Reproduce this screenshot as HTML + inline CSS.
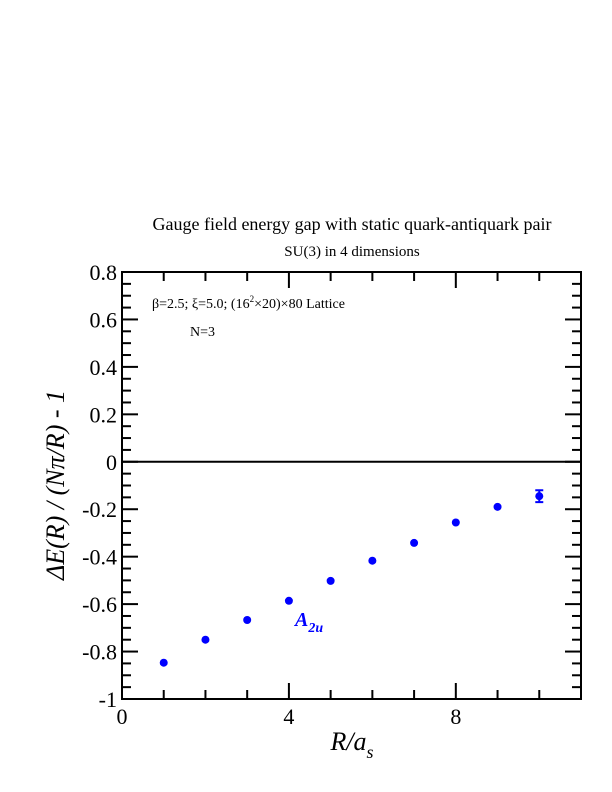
<!DOCTYPE html>
<html><head><meta charset="utf-8"><style>
body{margin:0;background:#fff;}
svg{display:block;font-family:"Liberation Serif","DejaVu Serif",serif;}
</style></head><body>
<svg width="612" height="792" viewBox="0 0 612 792">
<text x="352" y="230" font-size="18" text-anchor="middle">Gauge field energy gap with static quark-antiquark pair</text>
<text x="352" y="256" font-size="15" text-anchor="middle">SU(3) in 4 dimensions</text>
<g id="axes"></g>
<g id="marks"></g>
<text x="152" y="308" font-size="14">β=2.5;  ξ=5.0; (16<tspan dy="-6" font-size="9">2</tspan><tspan dy="6">×20)×80 Lattice</tspan></text>
<text x="190" y="336" font-size="14">N=3</text>
<text x="295" y="626" font-size="20" font-style="italic" font-weight="bold" fill="#0000ff">A<tspan dy="6" font-size="14">2u</tspan></text>
<text x="352" y="750" font-size="26" font-style="italic" text-anchor="middle">R/a<tspan dy="8" font-size="18">s</tspan></text>
<text transform="translate(64,485) rotate(-90)" font-size="26" font-style="italic" text-anchor="middle">ΔE(R) / (Nπ/R) - 1</text>
</svg>
<script>
const xValues=[1,2,3,4,5,6,7,8,9,10];
const yValues=[-0.847,-0.75,-0.667,-0.586,-0.502,-0.417,-0.342,-0.256,-0.19,-0.145];
const yErrors=[0.005,0.005,0.005,0.005,0.005,0.005,0.006,0.008,0.01,0.025];
const xTickLabels=[0,4,8];
const yTickLabels=[0.8,0.6,0.4,0.2,0,-0.2,-0.4,-0.6,-0.8,-1];
const L=122,R=581,T=272,B=699,xmin=0,xmax=11,ymin=-1,ymax=0.8;
const sx=v=>L+(v-xmin)/(xmax-xmin)*(R-L);
const sy=v=>B-(v-ymin)/(ymax-ymin)*(B-T);
const NS="http://www.w3.org/2000/svg";
const ax=document.getElementById('axes'),mk=document.getElementById('marks');
function mkEl(t,a,p){const e=document.createElementNS(NS,t);for(const k in a)e.setAttribute(k,a[k]);p.appendChild(e);return e;}
const frame=mkEl('rect',{x:L,y:T,width:R-L,height:B-T,fill:'none',stroke:'#000','stroke-width':2},ax);


const zl=mkEl('line',{x1:L,x2:R,y1:sy(0),y2:sy(0),stroke:'#000','stroke-width':2},ax);


for(let v=0;v<=11;v++){const x=sx(v),len=v%4==0?16:9;
 const t1=mkEl('line',{x1:x,x2:x,y1:B,y2:B-len,stroke:'#000','stroke-width':2},ax);
 
 
 const t2=mkEl('line',{x1:x,x2:x,y1:T,y2:T+len,stroke:'#000','stroke-width':2},ax);
 
 }
for(let i=0;i<=36;i++){const v=-1+i*0.05,y=sy(v),len=i%4==0?16:9;
 const t1=mkEl('line',{x1:L,x2:L+len,y1:y,y2:y,stroke:'#000','stroke-width':2},ax);
 
 
 const t2=mkEl('line',{x1:R,x2:R-len,y1:y,y2:y,stroke:'#000','stroke-width':2},ax);
 
 }
xTickLabels.forEach(v=>{const t=mkEl('text',{x:sx(v),y:B+25,'font-size':22,'text-anchor':'middle'},ax);t.textContent=v;
 
 });
yTickLabels.forEach(v=>{const t=mkEl('text',{x:L-5,y:sy(v)+8,'font-size':22,'text-anchor':'end'},ax);t.textContent=v;
 
 });
xValues.forEach((xv,i)=>{const x=sx(xv),y=sy(yValues[i]),e=yErrors[i];
 if(e*237>4){const y1=sy(yValues[i]+e),y2=sy(yValues[i]-e);
  const eb=mkEl('path',{d:`M${x},${y1}V${y2}M${x-4},${y1}H${x+4}M${x-4},${y2}H${x+4}`,stroke:'#0000ff','stroke-width':2,fill:'none'},mk);
  
  }
 const c=mkEl('circle',{cx:x,cy:y,r:4,fill:'#0000ff'},mk);
 
 });
</script>
</body></html>
